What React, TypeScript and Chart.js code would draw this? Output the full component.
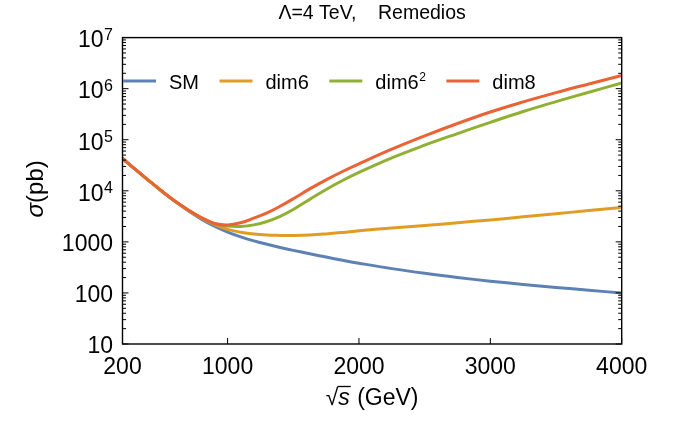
import { useEffect, useRef } from "react";
import { Chart, registerables } from "chart.js";

Chart.register(...registerables);

// ---- data ----
const sqrtS = [200, 300, 400, 500, 600, 700, 800, 900, 1000, 1100, 1200, 1300, 1400, 1500, 1625, 1750, 1875, 2000, 2250, 2500, 2750, 3000, 3250, 3500, 3750, 4000];
const smValues = [43000, 25900, 15850, 9810, 6220, 4060, 2790, 2020, 1550, 1250, 1045, 896, 778, 682, 585, 504, 437, 382, 299, 242, 201, 170, 147, 128, 113, 99.5];
const dim6Values = [43000, 25900, 15850, 9810, 6220, 4180, 2925, 2200, 1760, 1545, 1420, 1360, 1340, 1335, 1362, 1432, 1530, 1650, 1866, 2094, 2368, 2690, 3093, 3562, 4101, 4720];
const dim6SqValues = [43000, 25900, 15850, 9810, 6220, 4200, 2970, 2265, 2035, 2005, 2150, 2505, 3160, 4300, 6800, 10600, 15900, 22900, 44200, 78200, 132000, 219000, 356500, 557600, 853000, 1291000];
const dim8Values = [43000, 25900, 15850, 9810, 6220, 4190, 2990, 2295, 2150, 2375, 2920, 3690, 4980, 6980, 10900, 16400, 23900, 33800, 65300, 119000, 208000, 349000, 550000, 836000, 1236000, 1810000];

const seriesLabels = ["SM", "dim6", "dim6^2", "dim8"];
const seriesColors = ["#5E81B5", "#E19C24", "#8FB032", "#EB6235"];

const xTicks = [200, 1000, 2000, 3000, 4000];
const xTickLabels = ["200", "1000", "2000", "3000", "4000"];
const yTicks = [10, 100, 1000, 1e4, 1e5, 1e6, 1e7];
const yTickLabels = ["10", "100", "1000", "10^4", "10^5", "10^6", "10^7"];

const titleText = "Λ=4 TeV,    Remedios";
const xTitleText = "s";
const xTitleUnit = " (GeV)";
const yTitleText = "σ";
const yTitleUnit = "(pb)";

const FONT = '"Liberation Sans", Arial, Helvetica, sans-serif';

function drawSup(ctx: CanvasRenderingContext2D, text: string, x: number, y: number, size: number, supSize: number, raise: number, align: "left" | "right" | "center") {
  const parts = text.split("^");
  const base = parts[0];
  const sup = parts[1] || "";
  ctx.font = `${size}px ${FONT}`;
  const wb = ctx.measureText(base).width;
  ctx.font = `${supSize}px ${FONT}`;
  const ws = sup ? ctx.measureText(sup).width + 0.5 : 0;
  const total = wb + ws;
  let start = x;
  if (align === "right") start = x - total;
  else if (align === "center") start = x - total / 2;
  ctx.textAlign = "left";
  ctx.textBaseline = "alphabetic";
  ctx.font = `${size}px ${FONT}`;
  ctx.fillText(base, start, y);
  if (sup) {
    ctx.font = `${supSize}px ${FONT}`;
    ctx.fillText(sup, start + wb + 0.5, y - raise);
  }
  return total;
}

const decorPlugin = {
  id: "decor",
  afterDraw(chart: any) {
    const { ctx, chartArea: ca, scales } = chart;
    const xs = scales.x;
    const ys = scales.y;
    ctx.save();
    ctx.fillStyle = "#000";
    ctx.strokeStyle = "#000";

    const line = (x1: number, y1: number, x2: number, y2: number) => {
      ctx.beginPath();
      ctx.moveTo(x1, y1);
      ctx.lineTo(x2, y2);
      ctx.stroke();
    };

    // y ticks (major + minor), on both sides, inward
    ctx.lineWidth = 1;
    yTicks.forEach((v, i) => {
      const py = ys.getPixelForValue(v);
      line(ca.left, py, ca.left + 6, py);
      line(ca.right - 6, py, ca.right, py);
      if (i < yTicks.length - 1) {
        for (let m = 2; m <= 9; m++) {
          const p = ys.getPixelForValue(m * v);
          line(ca.left, p, ca.left + 3.5, p);
          line(ca.right - 3.5, p, ca.right, p);
        }
      }
    });
    // x ticks, bottom inward
    xTicks.forEach((v) => {
      const px = xs.getPixelForValue(v);
      line(px, ca.bottom, px, ca.bottom - 6);
    });

    // frame
    ctx.lineWidth = 1.4;
    ctx.strokeRect(ca.left, ca.top, ca.right - ca.left, ca.bottom - ca.top);

    // y tick labels
    yTicks.forEach((v, i) => {
      const py = ys.getPixelForValue(v);
      const lab = yTickLabels[i];
      if (lab.includes("^")) {
        drawSup(ctx, lab, ca.left - 9.5, py + 9.8, 23, 16, 7.5, "right");
      } else {
        drawSup(ctx, lab, ca.left - 9.5, py + 9.3, 23, 16, 0, "right");
      }
    });
    // x tick labels
    xTicks.forEach((v, i) => {
      const px = xs.getPixelForValue(v);
      drawSup(ctx, xTickLabels[i], px, ca.bottom + 29.5, 23, 16, 0, "center");
    });

    // title
    ctx.font = `19.5px ${FONT}`;
    ctx.textAlign = "center";
    ctx.textBaseline = "alphabetic";
    ctx.fillText(titleText, (ca.left + ca.right) / 2, 18.7);

    // x axis title: sqrt(s) (GeV)
    {
      const cx = (ca.left + ca.right) / 2;
      const by = ca.bottom + 61;
      ctx.font = `23px ${FONT}`;
      const wRad = ctx.measureText("√").width;
      ctx.font = `italic 23px ${FONT}`;
      const wS = ctx.measureText(xTitleText).width;
      ctx.font = `23px ${FONT}`;
      const wU = ctx.measureText(xTitleUnit).width;
      const total = wRad + wS + 1 + wU;
      const x0 = cx - total / 2;
      ctx.textAlign = "left";
      ctx.fillText("√", x0, by);
      ctx.lineWidth = 1.3;
      line(x0 + wRad - 0.8, by - 18.5, x0 + wRad + wS + 1, by - 18.5);
      ctx.font = `italic 23px ${FONT}`;
      ctx.fillText(xTitleText, x0 + wRad, by);
      ctx.font = `23px ${FONT}`;
      ctx.fillText(xTitleUnit, x0 + wRad + wS + 1, by);
    }

    // y axis title: σ(pb)
    {
      const cy = (ca.top + ca.bottom) / 2 - 2;
      ctx.save();
      ctx.translate(43, cy);
      ctx.rotate(-Math.PI / 2);
      ctx.font = `italic 24px ${FONT}`;
      const w1 = ctx.measureText(yTitleText).width;
      ctx.font = `24px ${FONT}`;
      const w2 = ctx.measureText(yTitleUnit).width;
      const tot = w1 + w2;
      ctx.textAlign = "left";
      ctx.font = `italic 24px ${FONT}`;
      ctx.fillText(yTitleText, -tot / 2, 0);
      ctx.font = `24px ${FONT}`;
      ctx.fillText(yTitleUnit, -tot / 2 + w1, 0);
      ctx.restore();
    }

    // legend inside plot
    {
      let x = ca.left + 0.5;
      const ly = 81;
      chart.data.datasets.forEach((ds: any) => {
        ctx.strokeStyle = ds.borderColor;
        ctx.lineWidth = 3;
        line(x, ly, x + 33, ly);
        x += 33 + 13;
        ctx.fillStyle = "#000";
        const w = drawSup(ctx, ds.label, x, ly + 8, 20, 12, 8.5, "left");
        x += w + 20.5;
      });
    }

    ctx.restore();
  },
};

export default function App() {
  const ref = useRef<HTMLCanvasElement | null>(null);
  useEffect(() => {
    document.body.style.margin = "0";
    const canvas = ref.current;
    if (!canvas) return;
    const allSeries = [smValues, dim6Values, dim6SqValues, dim8Values];
    const chart = new Chart(canvas, {
      type: "line",
      data: {
        datasets: allSeries.map((vals, i) => ({
          label: seriesLabels[i],
          data: sqrtS.map((x, j) => ({ x, y: vals[j] })),
          borderColor: seriesColors[i],
          backgroundColor: seriesColors[i],
          borderWidth: 3,
          pointRadius: 0,
          fill: false,
          tension: 0.4,
          order: allSeries.length - i,
        })),
      },
      options: {
        responsive: false,
        animation: false,
        devicePixelRatio: 1,
        events: [],
        layout: { padding: { left: 114.5, right: 54.3, top: 37.6, bottom: 88 } },
        plugins: {
          legend: { display: false },
          title: { display: false },
          tooltip: { enabled: false },
        },
        scales: {
          x: {
            type: "linear",
            min: 200,
            max: 4000,
            grid: { display: false },
            border: { display: false },
            ticks: { display: false },
          },
          y: {
            type: "logarithmic",
            min: 10,
            max: 1e7,
            grid: { display: false },
            border: { display: false },
            ticks: { display: false },
          },
        },
      },
      plugins: [decorPlugin],
    });
    return () => chart.destroy();
  }, []);
  return <canvas ref={ref} width={676} height={440} style={{ display: "block" }} />;
}
